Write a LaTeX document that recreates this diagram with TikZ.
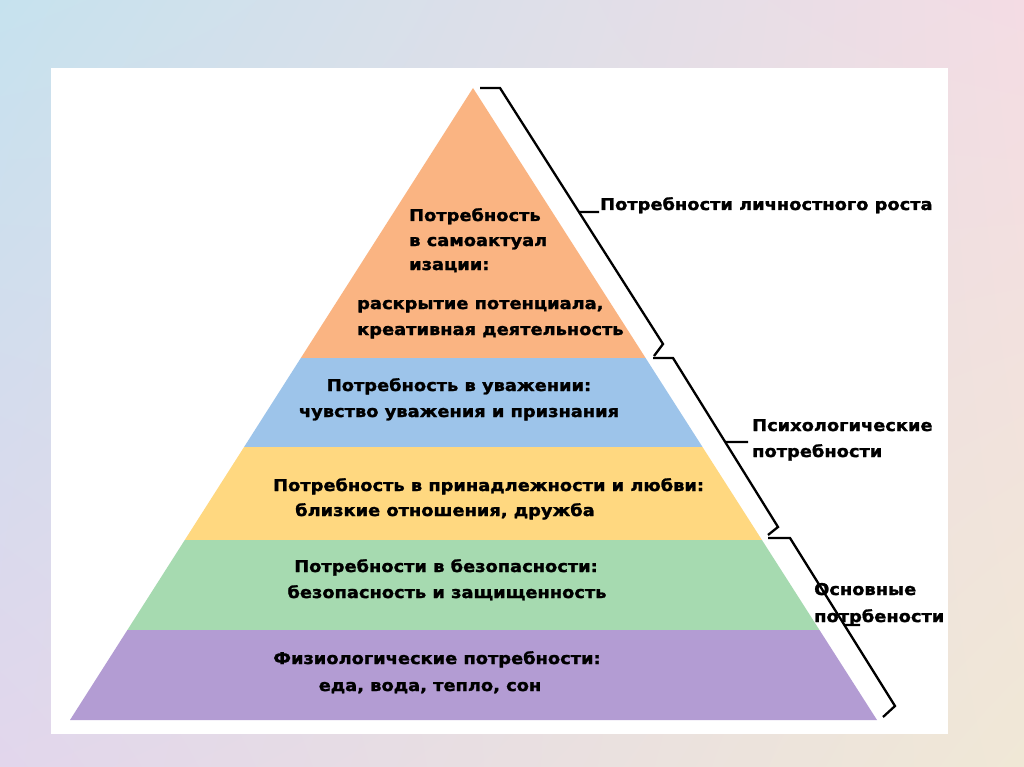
\documentclass[tikz,border=0pt]{standalone}
\usepackage{fontspec}
\setmainfont{DejaVu Sans}
\newfontfamily\lblfont{DejaVu Sans}[FakeStretch=1.1, BoldFeatures={FakeStretch=1.1, FakeBold=1.6}]
\usetikzlibrary{calc,shadings}
\definecolor{bgA}{RGB}{198,226,238}
\definecolor{bgB}{RGB}{244,220,228}
\definecolor{bgC}{RGB}{226,214,236}
\definecolor{bgD}{RGB}{240,232,214}
\definecolor{lvlA}{RGB}{250,180,130}
\definecolor{lvlB}{RGB}{157,196,234}
\definecolor{lvlC}{RGB}{255,216,128}
\definecolor{lvlD}{RGB}{166,218,176}
\definecolor{lvlE}{RGB}{179,156,211}
\tikzset{
  lbl/.style={anchor=base west, inner sep=0pt, font=\lblfont\fontsize{16.2}{19}\selectfont\bfseries},
  ctr/.style={anchor=base, inner sep=0pt, font=\lblfont\fontsize{16.2}{19}\selectfont\bfseries},
  brace/.style={draw=black, line width=2.3pt, line join=miter}
}
\begin{document}
\begin{tikzpicture}[x=1pt,y=-1pt]
\useasboundingbox (0,0) rectangle (1024,767);
\shade[upper left=bgA, upper right=bgB, lower left=bgC, lower right=bgD] (0,0) rectangle (1024,767);
\fill[white] (51,68) rectangle (948,734);
% pyramid
\coordinate (apex) at (473,88);
\coordinate (bl) at (70,720);
\coordinate (br) at (877,720);
\begin{scope}
\clip (apex) -- (br) -- (bl) -- cycle;
\fill[lvlA] (0,80) rectangle (1024,358);
\fill[lvlB] (0,358) rectangle (1024,447);
\fill[lvlC] (0,447) rectangle (1024,540);
\fill[lvlD] (0,540) rectangle (1024,630);
\fill[lvlE] (0,630) rectangle (1024,725);
\end{scope}
% texts in pyramid
\node[lbl] (t1) at (409,221) {Потребность};
\node[lbl] (t2) at (409,246) {в самоактуал};
\node[lbl] (t3) at (409,270) {изации:};
\node[lbl] (t4) at (357,309) {раскрытие потенциала,};
\node[lbl] (t5) at (357,335) {креативная деятельность};
\node[ctr] (b1) at (459,391) {Потребность в уважении:};
\node[ctr] (b2) at (459,417) {чувство уважения и признания};
\node[lbl] (y1) at (273,491) {Потребность в принадлежности и любви:};
\node[lbl] (y2) at (295,516) {близкие отношения, дружба};
\node[ctr] (g1) at (446,572) {Потребности в безопасности:};
\node[ctr] (g2) at (447,598) {безопасность и защищенность};
\node[ctr] (p1) at (437,664) {Физиологические потребности:};
\node[ctr] (p2) at (430,691) {еда, вода, тепло, сон};
% right labels
\node[lbl] (r1) at (600,210) {Потребности личностного роста};
\node[lbl] (r2) at (752,431) {Психологические};
\node[lbl] (r3) at (752,457) {потребности};
\node[lbl] (r4) at (814,595) {Основные};
\node[lbl] (r5) at (814,622) {потрбености};
% braces
\coordinate (a0) at (480,88);
\coordinate (a1) at (500,88);
\coordinate (a2) at (663,344);
\coordinate (a3) at (654,356);
\coordinate (am) at ($(a1)!0.484!(a2)$);
\coordinate (at) at (599,212);
\draw[brace] (a0) -- (a1) -- (a2) -- (a3);
\draw[brace] (am) -- (at);
\coordinate (c0) at (653,358);
\coordinate (c1) at (673,358);
\coordinate (c2) at (778,527);
\coordinate (c3) at (768,535);
\coordinate (cm) at ($(c1)!0.497!(c2)$);
\coordinate (ct) at (748,442);
\draw[brace] (c0) -- (c1) -- (c2) -- (c3);
\draw[brace] (cm) -- (ct);
\coordinate (d0) at (768,538);
\coordinate (d1) at (790,538);
\coordinate (d2) at (895,706);
\coordinate (d3) at (883,717);
\coordinate (dm) at ($(d1)!0.518!(d2)$);
\coordinate (dt) at (860,625);
\draw[brace] (d0) -- (d1) -- (d2) -- (d3);
\draw[brace] (dm) -- (dt);
\end{tikzpicture}
\end{document}
